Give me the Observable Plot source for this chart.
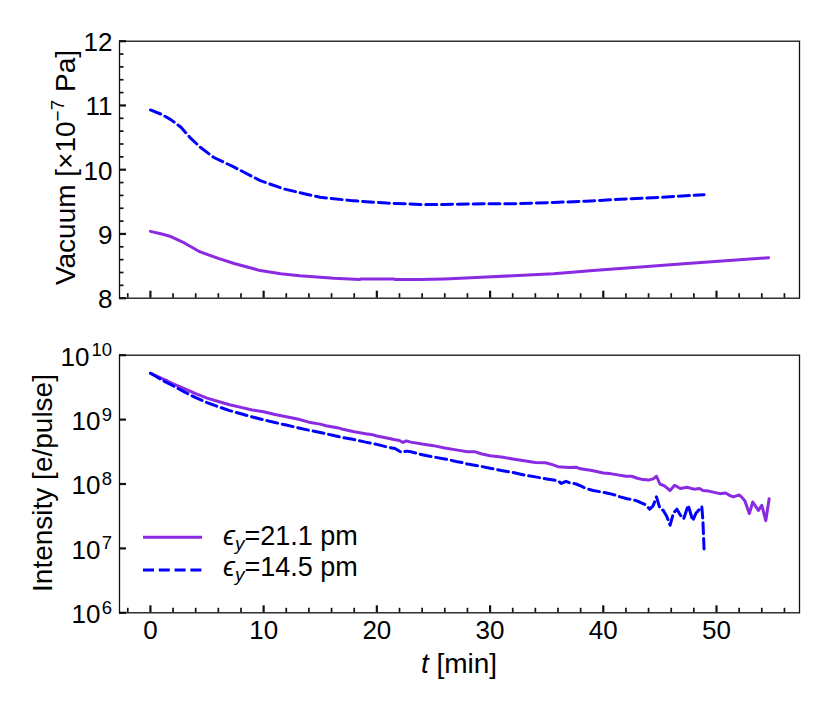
<!DOCTYPE html>
<html>
<head>
<meta charset="utf-8">
<script src="https://cdn.jsdelivr.net/npm/d3@7"></script>
<script src="https://cdn.jsdelivr.net/npm/@observablehq/plot@0.6"></script>
<style>
html,body{margin:0;padding:0;background:#fff;}
#wrap{position:relative;width:830px;height:703px;overflow:hidden;background:#fff;}
#top{position:absolute;left:0;top:0;}
#bot{position:absolute;left:0;top:320px;}
svg{display:block;}
</style>
</head>
<body>
<div id="wrap"><div id="top"></div><div id="bot"></div></div>
<script>
// ---------------- data ----------------
const seriesLabels = ["21.1 pm", "14.5 pm"];
const colors = ["#8a2be2", "#0000ff"];

// Vacuum [x1e-7 Pa], series A (21.1 pm, solid) and B (14.5 pm, dashed)
const vacTimeA = [0,1,1.8,3,4.4,6,7.4,9.7,11.5,13.2,16.2,18.5,18.6,21.5,21.6,23.8,26,29.7,35.6,39.1,42.1,47.4,54.6];
const vacA     = [9.04,9.00,8.96,8.86,8.72,8.62,8.54,8.43,8.38,8.35,8.31,8.29,8.30,8.30,8.29,8.29,8.30,8.33,8.38,8.43,8.47,8.54,8.63];
const vacTimeB = [0,1,1.8,2.7,3.5,4.4,5.6,7.4,9.7,11.8,13.5,15,17.7,20.9,23.8,26,29.7,32,35.6,38.5,41.5,45,48.9];
const vacB     = [10.93,10.86,10.78,10.66,10.50,10.35,10.19,10.04,9.83,9.70,9.63,9.57,9.52,9.48,9.46,9.46,9.47,9.47,9.49,9.51,9.54,9.57,9.61];

// Intensity [e/pulse]
const intTimeA = [0,0.5,1,1.5,2,3,4,5,6,7,8,9,10,11,12,13,14,15,15.5,16,16.5,17,18,19,19.5,20,21,21.5,22,22.3,22.6,23,24,25,26,27,28,28.7,29.2,30,31,32,33,34,34.9,35.5,36,37,37.6,38,39,40,40.6,41,42,42.5,43,43.5,44,44.4,44.7,45,45.4,45.9,46.3,46.8,47.4,48,48.5,48.8,49.3,49.8,50.3,50.8,51.2,51.5,52,52.2,52.5,52.9,53.2,53.7,54,54.35,54.65];
const intA     = [5.25e9,4.79e9,4.37e9,3.98e9,3.59e9,3.02e9,2.54e9,2.16e9,1.91e9,1.70e9,1.55e9,1.41e9,1.32e9,1.20e9,1.11e9,1.02e9,9.12e8,8.51e8,8.04e8,7.76e8,7.50e8,7.08e8,6.46e8,6.03e8,5.89e8,5.56e8,5.13e8,4.90e8,4.73e8,4.42e8,4.68e8,4.47e8,4.17e8,3.94e8,3.63e8,3.39e8,3.16e8,3.16e8,2.95e8,2.75e8,2.63e8,2.45e8,2.29e8,2.16e8,2.14e8,2.00e8,1.86e8,1.80e8,1.82e8,1.72e8,1.62e8,1.48e8,1.45e8,1.41e8,1.32e8,1.32e8,1.23e8,1.17e8,1.15e8,1.20e8,1.32e8,1.00e8,9.33e7,7.94e7,9.55e7,8.51e7,8.91e7,8.32e7,8.51e7,7.94e7,7.76e7,7.41e7,7.08e7,7.24e7,6.61e7,6.31e7,6.76e7,6.31e7,5.50e7,3.47e7,5.25e7,3.89e7,4.68e7,2.69e7,5.89e7];
const intTimeB = [0,0.5,1,1.5,2,3,4,5,6,7,8,9,10,11,12,13,14,15,16,17,18,19,20,21,21.6,22.2,22.6,23,24,25,26,27,27.6,28,29,30,31,32,33,34,35,36,36.3,36.7,37,37.6,38,38.5,39.1,40,40.6,41,41.5,42.1,42.6,43.2,43.7,44.1,44.4,44.7,45,45.3,45.6,45.9,46.2,46.5,46.8,47.1,47.5,47.9,48.2,48.4,48.7,48.8,48.9];
const intB     = [5.25e9,4.68e9,4.12e9,3.72e9,3.35e9,2.69e9,2.19e9,1.84e9,1.58e9,1.38e9,1.23e9,1.10e9,9.89e8,9.02e8,8.22e8,7.50e8,6.84e8,6.31e8,5.75e8,5.25e8,4.90e8,4.47e8,4.12e8,3.72e8,3.55e8,3.09e8,3.24e8,3.16e8,2.85e8,2.63e8,2.45e8,2.24e8,2.14e8,2.04e8,1.91e8,1.76e8,1.62e8,1.51e8,1.38e8,1.29e8,1.20e8,1.12e8,1.02e8,1.10e8,1.05e8,1.00e8,9.33e7,8.51e7,7.94e7,7.41e7,7.08e7,6.76e7,6.31e7,5.89e7,5.75e7,5.25e7,4.79e7,4.07e7,4.57e7,6.31e7,4.17e7,3.89e7,3.16e7,2.29e7,3.55e7,4.07e7,3.31e7,2.88e7,4.68e7,2.69e7,3.55e7,3.89e7,4.47e7,2.69e7,9.77e6];

// ticks
const xMajor = [0,10,20,30,40,50];
const xMinor = [-2,2,4,6,8,12,14,16,18,22,24,26,28,32,34,36,38,42,44,46,48,52,54,56];
const vacMajor = [8,9,10,11,12];
const vacMinor = [8.2,8.4,8.6,8.8,9.2,9.4,9.6,9.8,10.2,10.4,10.6,10.8,11.2,11.4,11.6,11.8];
const intMajor = [1e6,1e7,1e8,1e9,1e10];

// ---------------- build ----------------
const FONT = '"Liberation Sans", Arial, Helvetica, sans-serif';
const AX = "#111";
const TICKFS = 26;
const vacDataA = vacTimeA.map((t, i) => ({t, v: vacA[i]}));
const vacDataB = vacTimeB.map((t, i) => ({t, v: vacB[i]}));
const intDataA = intTimeA.map((t, i) => ({t, v: intA[i]}));
const intDataB = intTimeB.map((t, i) => ({t, v: intB[i]}));
const DASH = "11,4.8";
const LW = 3;

const common = {
  width: 830,
  marginLeft: 119,
  marginRight: 31,
  x: {domain: [-2.73, 57.33], axis: null, label: null},
  style: {fontFamily: FONT, fontSize: TICKFS + "px", color: "#000", background: "transparent", overflow: "visible"}
};

const topChart = Plot.plot({
  ...common,
  height: 320,
  marginTop: 40.7,
  marginBottom: 22.3,
  y: {domain: [8, 12], axis: null, label: null},
  marks: [
    Plot.line(vacDataA, {x: "t", y: "v", stroke: colors[0], strokeWidth: LW}),
    Plot.line(vacDataB, {x: "t", y: "v", stroke: colors[1], strokeWidth: LW, strokeDasharray: DASH}),
    Plot.frame({stroke: AX, strokeWidth: 1.3}),
    Plot.axisY(vacMajor, {anchor: "left", tickSize: -7, strokeWidth: 2.2, stroke: AX, fill: "none", label: null}),
    Plot.axisY(vacMinor, {anchor: "left", tickSize: -4.5, strokeWidth: 1.7, stroke: AX, fill: "none", label: null}),
    Plot.axisY(vacMajor, {anchor: "left", tickSize: 0, tickPadding: 7, fontSize: TICKFS, dy: 1.5, label: null, tickFormat: d => String(d)}),
    Plot.axisX(xMajor, {anchor: "bottom", tickSize: -7, strokeWidth: 2.2, stroke: AX, fill: "none", label: null}),
    Plot.axisX(xMinor, {anchor: "bottom", tickSize: -4.5, strokeWidth: 1.7, stroke: AX, fill: "none", label: null})
  ]
});

const expOf = d => Math.round(Math.log10(d));
const botChart = Plot.plot({
  ...common,
  height: 383,
  marginTop: 34.7,
  marginBottom: 90.7,
  y: {type: "log", domain: [1e6, 1e10], axis: null, label: null},
  marks: [
    Plot.line(intDataA, {x: "t", y: "v", stroke: colors[0], strokeWidth: LW}),
    Plot.line(intDataB, {x: "t", y: "v", stroke: colors[1], strokeWidth: LW, strokeDasharray: DASH}),
    Plot.frame({stroke: AX, strokeWidth: 1.3}),
    Plot.axisY(intMajor, {anchor: "left", tickSize: -7, strokeWidth: 2.2, stroke: AX, fill: "none", label: null}),
    // "10" bases
    Plot.text(intMajor.filter(d => expOf(d) < 10), {y: d => d, text: () => "10", frameAnchor: "left", textAnchor: "end", lineAnchor: "middle", dx: -19, dy: 2, fontSize: TICKFS, fill: "#000"}),
    Plot.text(intMajor.filter(d => expOf(d) >= 10), {y: d => d, text: () => "10", frameAnchor: "left", textAnchor: "end", lineAnchor: "middle", dx: -30, dy: 2, fontSize: TICKFS, fill: "#000"}),
    // exponents
    Plot.text(intMajor, {y: d => d, text: d => String(expOf(d)), frameAnchor: "left", textAnchor: "end", lineAnchor: "bottom", dx: -7.5, dy: 1, fontSize: 18.5, fill: "#000"}),
    Plot.axisX(xMajor, {anchor: "bottom", tickSize: -7, strokeWidth: 2.2, stroke: AX, fill: "none", label: null}),
    Plot.axisX(xMinor, {anchor: "bottom", tickSize: -4.5, strokeWidth: 1.7, stroke: AX, fill: "none", label: null}),
    Plot.axisX(xMajor, {anchor: "bottom", tickSize: 0, tickPadding: 7.5, fontSize: TICKFS, label: null, tickFormat: d => String(d)})
  ]
});

document.getElementById("top").append(topChart);
document.getElementById("bot").append(botChart);

// ---------------- axis labels ----------------
const tsvg = d3.select(topChart);
const tl = tsvg.append("text")
  .attr("transform", "translate(75,167.5) rotate(-90)")
  .attr("text-anchor", "middle")
  .attr("font-family", FONT).attr("font-size", 28).attr("fill", "#000");
tl.append("tspan").text("Vacuum [×10");
tl.append("tspan").attr("font-size", 19).attr("dy", -11).text("−7");
tl.append("tspan").attr("dy", 11).text(" Pa]");

const bsvg = d3.select(botChart);
bsvg.append("text")
  .attr("transform", "translate(52,163) rotate(-90)")
  .attr("text-anchor", "middle")
  .attr("font-family", FONT).attr("font-size", 28).attr("fill", "#000")
  .text("Intensity [e/pulse]");

const xl = bsvg.append("text")
  .attr("x", 459).attr("y", 353)
  .attr("text-anchor", "middle")
  .attr("font-family", FONT).attr("font-size", 28).attr("fill", "#000");
xl.append("tspan").attr("font-style", "italic").text("t");
xl.append("tspan").text(" [min]");

// ---------------- legend ----------------
const lg = bsvg.append("g").attr("font-family", FONT).attr("font-size", 27).attr("fill", "#000").attr("text-anchor", "start");
const rows = [
  {lineY: 217.3, textY: 225, dash: null},
  {lineY: 250, textY: 255.5, dash: DASH}
];
rows.forEach((r, i) => {
  lg.append("line").attr("x1", 143).attr("x2", 202).attr("y1", r.lineY).attr("y2", r.lineY)
    .attr("stroke", colors[i]).attr("stroke-width", LW).attr("stroke-dasharray", r.dash);
  const t = lg.append("text").attr("x", 223).attr("y", r.textY).attr("text-anchor", "start");
  t.append("tspan").attr("font-style", "italic").text("ϵ");
  t.append("tspan").attr("font-style", "italic").attr("font-size", 19).attr("dy", 5).text("y");
  t.append("tspan").attr("dy", -5).text("=" + seriesLabels[i]);
});
</script>
</body>
</html>
